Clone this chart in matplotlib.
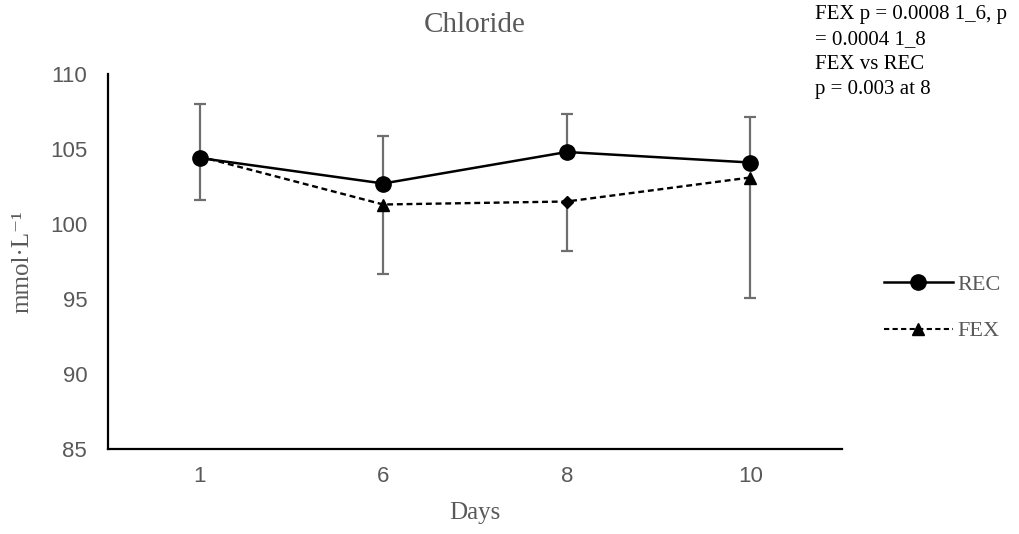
import matplotlib
matplotlib.use("Agg")
import matplotlib.pyplot as plt
from matplotlib.lines import Line2D
import numpy as np

# Chloride concentration by day (mmol/L)
days = ["1", "6", "8", "10"]
rec_mean = [104.4, 102.7, 104.8, 104.1]
rec_err_up = [3.6, 3.2, 2.55, 3.05]
fex_mean = [104.5, 101.3, 101.5, 103.1]
fex_err_down = [2.9, 4.6, 3.3, 8.05]
fex_markers = ["^", "^", "D", "^"]

yticks = [85, 90, 95, 100, 105, 110]

SERIF = ["Liberation Serif", "DejaVu Serif"]
SANS = "Liberation Sans"
GRAY = "#595959"
ERR = "#6e6e6e"

fig = plt.figure(figsize=(10.19, 5.34), dpi=100)
ax = fig.add_axes([108 / 1019, 1 - 449 / 534, (842 - 108) / 1019, (449 - 74) / 534])

x = np.arange(len(days))
rec = np.array(rec_mean)
fex = np.array(fex_mean)

# error bars: REC upward, FEX downward
ax.vlines(x, rec, rec + np.array(rec_err_up), color=ERR, lw=1.6, zorder=1)
ax.plot(x, rec + np.array(rec_err_up), ls="none", marker="_", ms=8, mew=1.6,
        color=ERR, zorder=1)
ax.vlines(x, fex - np.array(fex_err_down), fex, color=ERR, lw=1.6, zorder=1)
ax.plot(x, fex - np.array(fex_err_down), ls="none", marker="_", ms=8, mew=1.6,
        color=ERR, zorder=1)

# FEX dashed series
ax.plot(x, fex, color="black", lw=1.7, ls=(0, (2.5, 1.6)), zorder=2)
for xi, yi, m in zip(x, fex, fex_markers):
    ax.plot([xi], [yi], ls="none", marker=m, color="black",
            ms=9 if m == "^" else 6, zorder=3)

# REC solid series
ax.plot(x, rec, color="black", lw=1.8, marker="o", ms=11, zorder=4)

ax.set_xlim(-0.5, len(days) - 0.5)
ax.set_ylim(85, 110)
ax.set_xticks(x)
ax.set_xticklabels(days)
ax.set_yticks(yticks)
ax.tick_params(length=0, labelsize=16, labelcolor=GRAY)
ax.tick_params(axis="x", pad=12)
ax.tick_params(axis="y", pad=15)
for lab in ax.get_xticklabels() + ax.get_yticklabels():
    lab.set_fontfamily(SANS)

for s in ("top", "right"):
    ax.spines[s].set_visible(False)
for s in ("left", "bottom"):
    ax.spines[s].set_linewidth(1.6)
    ax.spines[s].set_color("black")

ax.set_xlabel("Days", fontfamily=SERIF, fontsize=18, color=GRAY)
ax.xaxis.set_label_coords(0.5, -0.14)
ax.set_ylabel("mmol·L⁻¹", fontfamily=SERIF, fontsize=18, color=GRAY)
ax.yaxis.set_label_coords(-0.102, 0.5)

fig.text(475 / 1019, 1 - 25 / 534, "Chloride", fontfamily=SERIF, fontsize=21,
         color=GRAY, ha="center", va="center")

fig.text(815 / 1019, 1 - 5 / 534,
         "FEX p = 0.0008 1_6, p\n= 0.0004 1_8\nFEX vs REC\np = 0.003 at 8",
         fontfamily=SERIF, fontsize=15, color="black", ha="left", va="top",
         linespacing=1.42)

handles = [
    Line2D([], [], color="black", lw=1.8, marker="o", ms=11),
    Line2D([], [], color="black", lw=1.5, ls=(0, (2.5, 1.6)), marker="^", ms=8),
]
leg = fig.legend(handles, ["REC", "FEX"], loc="center left",
                 bbox_to_anchor=(864 / 1019, 1 - 308 / 534), frameon=False,
                 prop={"family": SERIF, "size": 16}, handlelength=3.1,
                 handletextpad=0.18, labelspacing=1.15)
for t in leg.get_texts():
    t.set_color(GRAY)

fig.savefig("out.png", dpi=100)
